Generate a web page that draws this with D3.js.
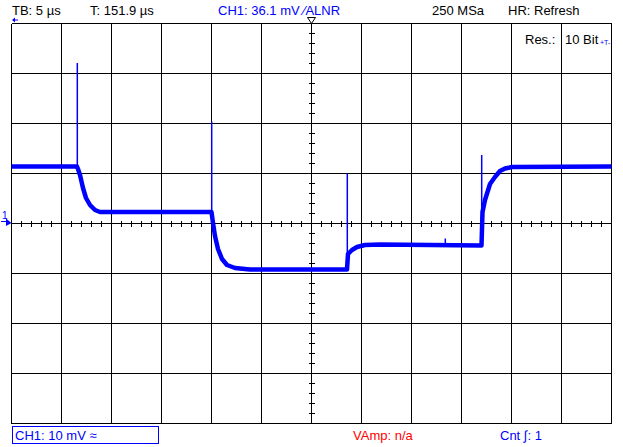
<!DOCTYPE html>
<html lang="en">
<head>
    <meta charset="UTF-8">
    <title>Scope capture</title>
    <style>
        body { margin: 0; background: #fff; }
        svg { display: block; }
        text { font-family: "Liberation Sans", Arial, sans-serif; font-size: 13px; }
        .grid { stroke: #000; stroke-width: 1; shape-rendering: crispEdges; }
        .trace { fill: none; stroke: #0000ff; stroke-width: 4.5; stroke-linejoin: round; stroke-linecap: butt; }
        .spike { stroke: #0000ff; stroke-width: 1.5; }
    </style>
</head>
<body>
    <svg id="chart" width="623" height="447"></svg>
    <script src="https://d3js.org/d3.v7.min.js"></script>
    <script>
        // trace, time in µs from left edge (5 µs/div), level in mV (10 mV/div)
        const timeUs = [0, 6.55, 6.65, 6.85, 7.15, 7.45, 7.85, 8.35, 8.85, 20.0,
            20.15, 20.35, 20.65, 21.05, 21.55, 22.35, 23.85, 33.55,
            33.65, 34.05, 34.55, 35.35, 36.85, 47.0,
            47.1, 47.35, 47.85, 48.35, 48.85, 49.35, 50.05, 60];
        const levelMv = [11.4, 11.4, 10.9, 9.7, 7.1, 5.1, 3.7, 2.7, 2.3, 2.3,
            0.1, -2.5, -5.1, -7.1, -8.3, -8.9, -9.2, -9.2,
            -6.1, -5.3, -4.7, -4.3, -4.2, -4.4,
            2.3, 4.7, 7.9, 9.3, 10.5, 11.0, 11.3, 11.4];

        // narrow glitches at each edge
        const spikeTimeUs = [6.58, 20.02, 33.58, 43.38, 47.02];
        const spikeTopMv = [32.1, 20.4, 10.0, -3.0, 13.7];
        const spikeBaseMv = [11.4, 2.3, -9.2, -4.4, -4.4];

        const headerTexts = ["TB: 5 µs", "T: 151.9 µs", "CH1: 36.1 mV ∕ALNR", "250 MSa", "HR: Refresh"];
        const footerTexts = ["CH1: 10 mV ≈", "VAmp: n/a", "Cnt ∫: 1"];

        const svg = d3.select("#chart");
        const x = d3.scaleLinear().domain([0, 60]).range([11.5, 611.5]);
        const y = d3.scaleLinear().domain([-40, 40]).range([423.5, 23.5]);

        // graticule
        const g = svg.append("g");
        g.selectAll("line.v").data(d3.range(0, 61, 5)).enter().append("line")
            .attr("class", "grid")
            .attr("x1", d => x(d)).attr("x2", d => x(d))
            .attr("y1", y(40)).attr("y2", y(-40));
        g.selectAll("line.h").data(d3.range(-40, 41, 10)).enter().append("line")
            .attr("class", "grid")
            .attr("x1", x(0)).attr("x2", x(60))
            .attr("y1", d => y(d)).attr("y2", d => y(d));

        // minor ticks on the centre cross
        g.selectAll("line.tx").data(d3.range(0, 61, 1)).enter().append("line")
            .attr("class", "grid")
            .attr("x1", d => x(d)).attr("x2", d => x(d))
            .attr("y1", y(0) - 3).attr("y2", y(0) + 3);
        g.selectAll("line.ty").data(d3.range(-40, 41, 2)).enter().append("line")
            .attr("class", "grid")
            .attr("x1", x(30) - 3).attr("x2", x(30) + 3)
            .attr("y1", d => y(d)).attr("y2", d => y(d));

        // trigger marker at top centre
        svg.append("path")
            .attr("d", `M${x(30) - 4},${y(40) - 6}L${x(30) + 4},${y(40) - 6}L${x(30)},${y(40)}Z`)
            .attr("fill", "#fff").attr("stroke", "#000").attr("stroke-width", 1);

        // waveform
        const line = d3.line().x((d, i) => x(timeUs[i])).y(d => y(d));
        svg.append("path").datum(levelMv).attr("class", "trace").attr("d", line);

        svg.selectAll("line.spike").data(spikeTimeUs).enter().append("line")
            .attr("class", "spike")
            .attr("x1", d => x(d)).attr("x2", d => x(d))
            .attr("y1", (d, i) => y(spikeBaseMv[i])).attr("y2", (d, i) => y(spikeTopMv[i]));

        // channel 1 ground marker
        svg.append("text").attr("x", 2).attr("y", 219).attr("fill", "#0000ff")
            .style("font-size", "10px").text("1");
        svg.append("line").attr("x1", 1).attr("x2", 8).attr("y1", 221.5).attr("y2", 221.5)
            .attr("stroke", "#0000ff").attr("stroke-width", 1);
        svg.append("path").attr("d", "M6,218.5L11.5,223L6,226Z").attr("fill", "#0000ff");

        // small arrow top-left
        svg.append("path").attr("d", "M12,20L15,17.5L15,19.5L18,19.5L18,20.5L15,20.5L15,22.5Z")
            .attr("fill", "#0000ff");

        // header
        const headerX = [12, 90, 218, 432, 508];
        const headerColor = ["#000", "#000", "#0000ff", "#000", "#000"];
        svg.selectAll("text.head").data(headerTexts).enter().append("text")
            .attr("class", "head")
            .attr("x", (d, i) => headerX[i]).attr("y", 15)
            .attr("fill", (d, i) => headerColor[i])
            .text(d => d);

        svg.append("text").attr("x", 525).attr("y", 44).text("Res.:");
        svg.append("text").attr("x", 565).attr("y", 44).text("10 Bit");
        svg.append("text").attr("x", 600).attr("y", 45).attr("fill", "#0000ff")
            .style("font-size", "7px").text("+T-");

        // footer
        svg.append("rect").attr("x", 12.5).attr("y", 426.5).attr("width", 146).attr("height", 17)
            .attr("fill", "none").attr("stroke", "#0000ff").attr("stroke-width", 1);
        const footerX = [15, 353, 500];
        const footerColor = ["#0000ff", "#ff0000", "#0000ff"];
        svg.selectAll("text.foot").data(footerTexts).enter().append("text")
            .attr("class", "foot")
            .attr("x", (d, i) => footerX[i]).attr("y", 440)
            .attr("fill", (d, i) => footerColor[i])
            .text(d => d);
    </script>
</body>
</html>
